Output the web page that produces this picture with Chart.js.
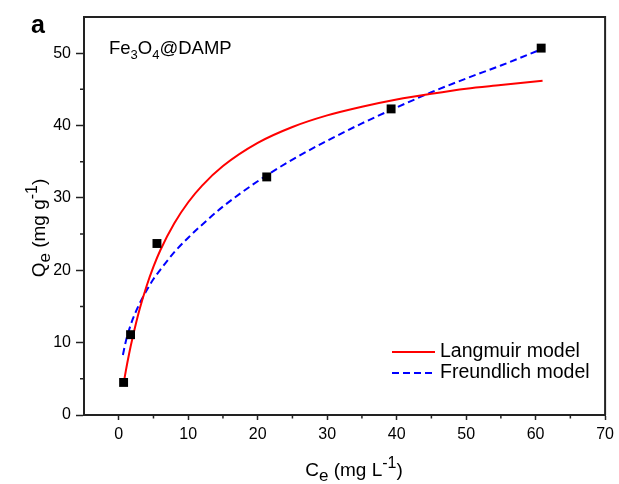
<!DOCTYPE html>
<html>
<head>
<meta charset="utf-8">
<script src="https://cdn.jsdelivr.net/npm/chart.js@4"></script>
<style>
  html, body { margin: 0; padding: 0; background: #fff; }
  #wrap { width: 619px; height: 484px; }
</style>
</head>
<body>
<div id="wrap"><canvas id="isoChart"></canvas></div>
<script>
// measured points
const ceData = [0.7, 1.7, 5.5, 21.3, 39.2, 60.8];
const qeData = [4.5, 11.1, 23.7, 32.9, 42.3, 50.7];

// fitted curves
const langC = [0.7, 1, 1.5, 2, 3, 4, 5, 6, 8, 10, 12, 15, 20, 25, 30, 35, 40, 45, 50, 55, 61];
const langQ = [4.3, 6.0, 8.5, 10.7, 14.6, 17.8, 20.5, 22.8, 26.5, 29.4, 31.7, 34.4, 37.6, 39.8, 41.4, 42.6, 43.6, 44.4, 45.1, 45.6, 46.2];

const freuC = [0.6, 1, 1.5, 2, 3, 4, 5, 6, 8, 10, 12, 15, 20, 25, 30, 35, 40, 45, 50, 55, 61];
const freuQ = [8.3, 10.1, 11.8, 13.2, 15.4, 17.2, 18.8, 20.1, 22.5, 24.5, 26.3, 28.8, 32.3, 35.3, 37.9, 40.3, 42.5, 44.6, 46.5, 48.3, 50.6];

const xTicks = [0, 10, 20, 30, 40, 50, 60, 70];
const yTicks = [0, 10, 20, 30, 40, 50];

const FONT = "'Liberation Sans', Arial, sans-serif";

const toXY = (xs, ys) => xs.map((x, i) => ({ x: x, y: ys[i] }));

// draws a run of text pieces: [text, size, baselineShift]
function richText(ctx, parts, x, y) {
  let cx = x;
  parts.forEach(([t, size, dy]) => {
    ctx.font = size + "px " + FONT;
    ctx.fillText(t, cx, y + dy);
    cx += ctx.measureText(t).width;
  });
  return cx - x;
}

function richWidth(ctx, parts) {
  let w = 0;
  parts.forEach(([t, size]) => {
    ctx.font = size + "px " + FONT;
    w += ctx.measureText(t).width;
  });
  return w;
}

const decorations = {
  id: "decorations",
  afterDraw(chart) {
    const ctx = chart.ctx;
    const { left, right, top, bottom } = chart.chartArea;
    const xs = chart.scales.x, ys = chart.scales.y;
    ctx.save();

    // frame top / right
    ctx.strokeStyle = "#222";
    ctx.lineWidth = 2;
    ctx.beginPath();
    ctx.moveTo(left, top);
    ctx.lineTo(right, top);
    ctx.lineTo(right, bottom);
    ctx.stroke();

    // minor ticks
    ctx.lineWidth = 1.5;
    ctx.beginPath();
    for (let v = 5; v <= 65; v += 10) {
      const px = xs.getPixelForValue(v);
      ctx.moveTo(px, bottom);
      ctx.lineTo(px, bottom + 3.5);
    }
    for (let v = 5; v <= 55; v += 10) {
      const py = ys.getPixelForValue(v);
      if (py <= top + 1) continue;
      ctx.moveTo(left, py);
      ctx.lineTo(left - 4, py);
    }
    ctx.stroke();

    ctx.fillStyle = "#000";
    ctx.textBaseline = "alphabetic";
    ctx.textAlign = "left";

    // panel letter
    ctx.font = "bold 25px " + FONT;
    ctx.fillText("a", 31, 33);

    // sample label
    richText(ctx, [["Fe", 18.5, 0], ["3", 13, 5], ["O", 18.5, 0], ["4", 13, 5], ["@DAMP", 18.5, 0]], 109, 54);

    // x title
    const xParts = [["C", 19, 0], ["e", 17, 5], [" (mg L", 19, 0], ["-1", 16, -8], [")", 19, 0]];
    const xw = richWidth(ctx, xParts);
    richText(ctx, xParts, 354 - xw / 2, 476);

    // y title
    const yParts = [["Q", 19, 0], ["e", 17, 5], [" (mg g", 19, 0], ["-1", 16, -8], [")", 19, 0]];
    const yw = richWidth(ctx, yParts);
    ctx.save();
    ctx.translate(45, 228);
    ctx.rotate(-Math.PI / 2);
    richText(ctx, yParts, -yw / 2, 0);
    ctx.restore();

    // legend
    ctx.lineWidth = 2;
    ctx.strokeStyle = "#ff0000";
    ctx.beginPath();
    ctx.moveTo(392, 352);
    ctx.lineTo(435, 352);
    ctx.stroke();
    ctx.strokeStyle = "#0000ff";
    ctx.setLineDash([7, 4]);
    ctx.beginPath();
    ctx.moveTo(392, 373);
    ctx.lineTo(435, 373);
    ctx.stroke();
    ctx.setLineDash([]);
    ctx.font = "19.5px " + FONT;
    ctx.textBaseline = "middle";
    ctx.fillText("Langmuir model", 440, 352);
    ctx.fillText("Freundlich model", 440, 373);

    ctx.restore();
  }
};

const chart = new Chart(document.getElementById("isoChart"), {
  type: "scatter",
  data: {
    datasets: [
      {
        label: "Experimental",
        data: toXY(ceData, qeData),
        pointStyle: "rect",
        pointRadius: 6.3,
        pointBackgroundColor: "#000",
        pointBorderWidth: 0,
        showLine: false,
      },
      {
        label: "Langmuir model",
        data: toXY(langC, langQ),
        showLine: true,
        borderColor: "#ff0000",
        borderWidth: 2,
        pointRadius: 0,
        cubicInterpolationMode: "monotone",
      },
      {
        label: "Freundlich model",
        data: toXY(freuC, freuQ),
        showLine: true,
        borderColor: "#0000ff",
        borderWidth: 2,
        borderDash: [7, 4],
        pointRadius: 0,
        cubicInterpolationMode: "monotone",
      },
    ],
  },
  options: {
    responsive: true,
    maintainAspectRatio: false,
    animation: false,
    layout: { padding: { left: 0, right: 9, top: 17, bottom: 0 } },
    plugins: {
      legend: { display: false },
      tooltip: { enabled: false },
    },
    scales: {
      x: {
        type: "linear",
        min: -5,
        max: 70,
        afterBuildTicks: (scale) => { scale.ticks = xTicks.map(v => ({ value: v })); },
        afterFit: (scale) => { scale.height = 69; },
        ticks: { color: "#000", font: { family: FONT, size: 16 }, padding: 5, maxRotation: 0 },
        grid: { drawOnChartArea: false, tickLength: 5, tickColor: "#222", tickWidth: 1.5 },
        border: { color: "#222", width: 2 },
      },
      y: {
        type: "linear",
        min: 0,
        max: 55,
        afterBuildTicks: (scale) => { scale.ticks = yTicks.map(v => ({ value: v })); },
        afterFit: (scale) => { scale.width = 84; },
        ticks: { color: "#000", font: { family: FONT, size: 16 }, padding: 5 },
        grid: { drawOnChartArea: false, tickLength: 8, tickColor: "#222", tickWidth: 1.5 },
        border: { color: "#222", width: 2 },
      },
    },
  },
  plugins: [decorations],
});
</script>
</body>
</html>
